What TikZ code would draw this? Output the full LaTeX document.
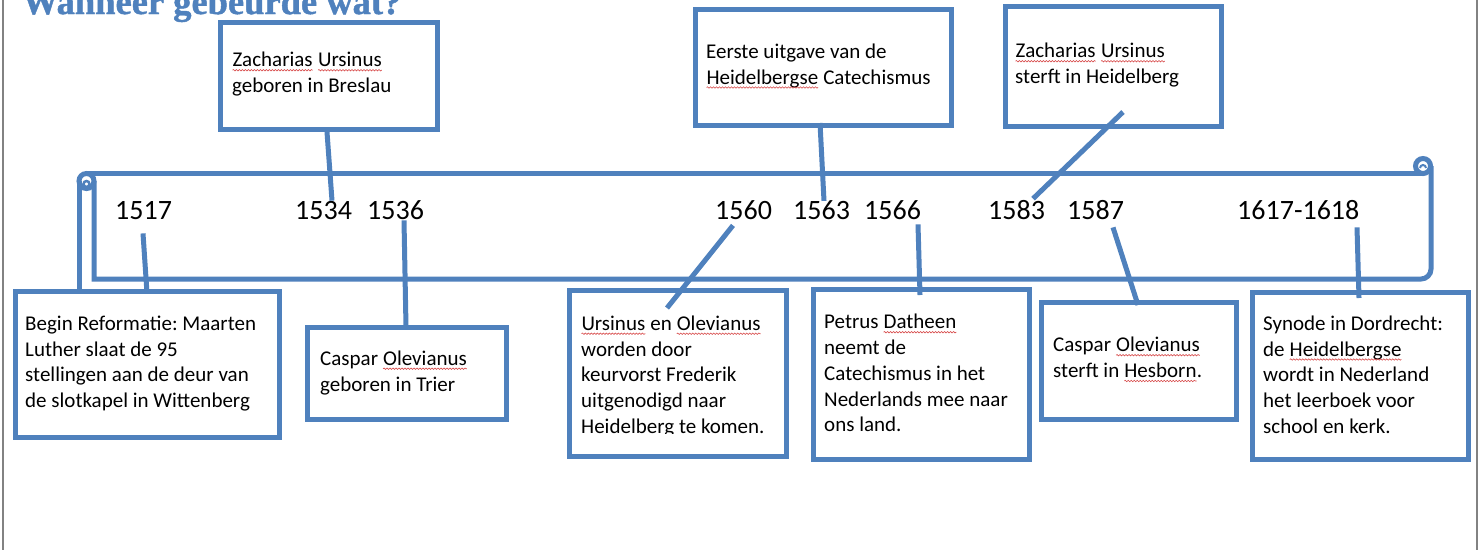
\documentclass[tikz,border=0pt]{standalone}
\usepackage{fontspec}
\setmainfont{Carlito}
\newfontfamily\titlefont[BoldFeatures={FakeBold=1.2}]{Liberation Serif}
\usetikzlibrary{calc,decorations.pathmorphing}
\definecolor{bl}{RGB}{79,129,189}
\definecolor{sqred}{RGB}{215,70,70}
\definecolor{framegray}{RGB}{130,130,130}
\newcommand\sq[1]{\tikz[baseline=(w.base),x=1pt,y=1pt]{\node[inner sep=0pt,outer sep=0pt,anchor=base west] (w) at (0,0) {#1}; \draw[sqred, line width=0.6pt, decorate, decoration={snake, amplitude=0.7pt, segment length=3pt}] (0,-3.5) -- (w.base east |- 0,-3.5);}}
\newcommand\bodyfont{\fontsize{21}{25.8}\selectfont}
\newcommand\yearfont{\fontsize{28}{30}\selectfont}
\newcommand\firstline{\rule{0pt}{17pt}}
\frenchspacing
\begin{document}
\begin{tikzpicture}[x=1pt,y=-1pt,
  framestyle/.style={draw=framegray, line width=2pt},
  scroll/.style={draw=bl, line width=5pt},
  evbox/.style={draw=bl, line width=5pt, fill=white, inner sep=0pt, anchor=north west},
  txt/.style={anchor=north west, inner sep=0pt, align=left, font=\bodyfont, text=black},
  yr/.style={anchor=base west, inner sep=0pt, font=\yearfont, text=black},
  conn/.style={draw=bl, line width=5pt}]
\useasboundingbox (0,0) rectangle (1480,550);
\clip (0,0) rectangle (1480,550);
\fill[white] (0,0) rectangle (1480,550);
% page frame
\draw[framestyle] (3,0) -- (3,550);
\draw[framestyle] (1477,0) -- (1477,550);
% title
\node[anchor=base west, inner sep=0pt, font=\titlefont\bfseries\fontsize{36.5}{40}\selectfont, text=bl] (title) at (22,14) {Wanneer gebeurde wat?};
% scroll
\draw[scroll] (79,181) -- (79,289);
\draw[scroll] (86.5,173.5) -- (1423,173.5);
\draw[scroll] (86.5,181) circle (7.5);
\draw[bl, line width=2.5pt] (86.5,184) circle (3);
\draw[scroll] (94,181) -- (94,279) -- (1421,279) arc (90:0:10) -- (1431,166);
\draw[scroll] (1423,166) circle (7.5);
\draw[bl, line width=2pt] (1420,168) arc (180:360:3);
% boxes
\node[evbox, minimum width=217pt, minimum height=107pt] (b1) at (218,20) {};
\node[evbox, minimum width=264pt, minimum height=146pt] (b2) at (13,289) {};
\node[evbox, minimum width=199pt, minimum height=92pt] (b3) at (305,325) {};
\node[evbox, minimum width=256pt, minimum height=116pt] (b4) at (693,7) {};
\node[evbox, minimum width=216pt, minimum height=120pt] (b5) at (1003,4) {};
\node[evbox, minimum width=217pt, minimum height=166pt] (b6) at (567,288) {};
\node[evbox, minimum width=216pt, minimum height=170pt] (b7) at (811,287) {};
\node[evbox, minimum width=195pt, minimum height=117pt] (b8) at (1039,300) {};
\node[evbox, minimum width=216pt, minimum height=167pt] (b9) at (1250,290) {};
% texts
\node[txt] (t1) at (232,49.5) {\firstline\sq{Zacharias} \sq{Ursinus}\\geboren in Breslau};
\node[txt] (t2) at (25,313) {\firstline Begin Reformatie: Maarten\\Luther slaat de 95\\stellingen aan de deur van\\de slotkapel in Wittenberg};
\node[txt] (t3) at (320,348) {\firstline Caspar \sq{Olevianus}\\geboren in Trier};
\node[txt] (t4) at (706,41) {\firstline Eerste uitgave van de\\\sq{Heidelbergse} Catechismus};
\node[txt] (t5) at (1015,40.5) {\firstline\sq{Zacharias} \sq{Ursinus}\\sterft in Heidelberg};
\begin{scope}
\clip (567,288) rectangle (784,433);
\node[txt] (t6) at (581,313) {\firstline\sq{Ursinus} en \sq{Olevianus}\\worden door\\keurvorst Frederik\\uitgenodigd naar\\Heidelberg te komen.};
\end{scope}
\node[txt] (t7) at (824,311.5) {\firstline Petrus \sq{Datheen}\\neemt de\\Catechismus in het\\Nederlands mee naar\\ons land.};
\node[txt] (t8) at (1053,334.5) {\firstline Caspar \sq{Olevianus}\\sterft in \sq{Hesborn}.};
\node[txt] (t9) at (1263,313) {\firstline Synode in Dordrecht:\\de \sq{Heidelbergse}\\wordt in Nederland\\het leerboek voor\\school en kerk.};
% years
\node[yr] (y1517) at (115,219) {1517};
\node[yr] (y1534) at (295,219) {1534};
\node[yr] (y1536) at (367,219) {1536};
\node[yr] (y1560) at (715,219) {1560};
\node[yr] (y1563) at (793,219) {1563};
\node[yr] (y1566) at (864,219) {1566};
\node[yr] (y1583) at (988,219) {1583};
\node[yr] (y1587) at (1067,219) {1587};
\node[yr] (y1617) at (1237,219) {1617-1618};
% connectors
\draw[conn] ($(b1.south west)+(109,0)$) -- ($(y1534.north west)+(37,0)$);
\draw[conn] ($(y1517.south west)+(28,14)$) -- ($(b2.north west)+(134,4)$);
\draw[conn] ($(y1536.south west)+(37,1)$) -- ($(b3.north west)+(101,2)$);
\draw[conn] ($(b4.south west)+(127,-5)$) -- ($(y1563.north west)+(31,1)$);
\draw[conn] ($(b5.south west)+(120,-17)$) -- ($(y1583.north west)+(45,-1)$);
\draw[conn] ($(y1560.south west)+(18,6)$) -- ($(b6.north west)+(100,20)$);
\draw[conn] ($(y1566.south west)+(54,5)$) -- ($(b7.north west)+(109,8)$);
\draw[conn] ($(y1587.south west)+(46,8)$) -- ($(b8.north west)+(99,5)$);
\draw[conn] ($(y1617.south west)+(120,8)$) -- ($(b9.north west)+(109,8)$);
\end{tikzpicture}
\end{document}
